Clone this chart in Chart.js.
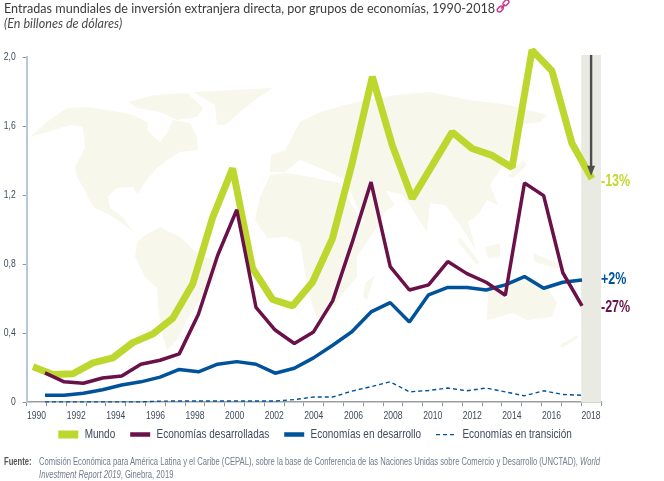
<!DOCTYPE html>
<html lang="es">
<head>
<meta charset="utf-8">
<title>Entradas mundiales de inversión extranjera directa</title>
<script src="https://cdn.jsdelivr.net/npm/chart.js@4/dist/chart.umd.min.js"></script>
<style>
html,body{margin:0;padding:0;background:#fff;}
#wrap{position:relative;width:664px;height:481px;overflow:hidden;}
canvas{position:absolute;left:0;top:0;}
.t{position:absolute;white-space:nowrap;}
#title{left:4px;top:1px;font:400 12.6px Lato,sans-serif;color:#3c3c3c;}
#sub{left:4px;top:16px;font:italic 400 12.6px Lato,sans-serif;color:#4a4a4a;}
#link{position:absolute;left:496px;top:0px;}
.pct{font:700 16px "Liberation Sans",sans-serif;transform:scaleX(.78);transform-origin:0 0;}
.src{font:400 10px "Liberation Sans",sans-serif;color:#717c8c;transform:scaleX(.765);transform-origin:0 0;}
</style>
</head>
<body>
<div id="wrap">
<canvas id="c" width="664" height="481"></canvas>
<div class="t" id="title">Entradas mundiales de inversión extranjera directa, por grupos de economías, 1990-2018</div>
<div class="t" id="sub">(En billones de dólares)</div>
<svg id="link" width="14" height="14" viewBox="0 0 14 14" fill="none" stroke="#c8308c" stroke-width="1.4"><rect x="6.6" y="0.8" width="6.6" height="4" rx="1.9" transform="rotate(-45 9.9 2.8)"/><rect x="1" y="7" width="6.6" height="4" rx="1.9" transform="rotate(-45 4.3 9)"/><path d="M5 8.5 L9 4.5"/></svg>
<div class="t pct" style="left:601px;top:172px;color:#c4d92e">-13%</div>
<div class="t pct" style="left:601px;top:270px;color:#00529b">+2%</div>
<div class="t pct" style="left:601px;top:298px;color:#6a1149">-27%</div>
<div class="t src" style="left:4px;top:456px;color:#555"><b>Fuente:</b></div>
<div class="t src" style="left:39px;top:456px">Comisión Económica para América Latina y el Caribe (CEPAL), sobre la base de Conferencia de las Naciones Unidas sobre Comercio y Desarrollo (UNCTAD), <i>World</i></div>
<div class="t src" style="left:39px;top:469px"><i>Investment Report 2019</i>, Ginebra, 2019</div>
</div>
<script>
const years = [1990,1991,1992,1993,1994,1995,1996,1997,1998,1999,2000,2001,2002,2003,2004,2005,2006,2007,2008,2009,2010,2011,2012,2013,2014,2015,2016,2017,2018];
const mundo = [0.205,0.16,0.165,0.228,0.257,0.345,0.395,0.487,0.685,1.07,1.355,0.775,0.595,0.558,0.695,0.947,1.39,1.885,1.488,1.18,1.372,1.565,1.47,1.43,1.36,2.04,1.92,1.50,1.295];
const desarrolladas = [0.17,0.118,0.11,0.14,0.152,0.22,0.243,0.28,0.51,0.85,1.115,0.55,0.418,0.34,0.407,0.587,0.92,1.275,0.785,0.65,0.68,0.815,0.745,0.695,0.62,1.27,1.197,0.75,0.558];
const enDesarrollo = [0.04,0.04,0.052,0.072,0.1,0.118,0.145,0.19,0.176,0.22,0.235,0.22,0.168,0.197,0.257,0.33,0.408,0.523,0.577,0.465,0.622,0.665,0.665,0.65,0.68,0.728,0.66,0.695,0.708];
const enTransicion = [0.002,0.002,0.002,0.002,0.002,0.002,0.006,0.007,0.007,0.007,0.007,0.007,0.007,0.015,0.03,0.03,0.064,0.09,0.118,0.06,0.068,0.082,0.066,0.082,0.06,0.037,0.066,0.045,0.04];
const yTicks = [0,0.4,0.8,1.2,1.6,2.0];

const pair = arr => arr.map((v,i)=>({x:years[i],y:v}));

/* pale decorative world map behind the chart */
const land = [
 [[30,137],[47,122],[67,108],[87,107],[107,110],[120,112],[133,115],[143,120],[148,123],[147,130],[160,142],[167,133],[173,120],[190,123],[197,137],[198,150],[180,152],[167,160],[157,168],[147,180],[140,190],[138,195],[133,187],[117,188],[108,197],[110,208],[123,217],[130,228],[138,235],[127,227],[110,215],[93,207],[83,187],[77,177],[75,167],[85,148],[83,127],[70,125],[47,132]],
 [[128,102],[153,95],[187,93],[203,108],[197,117],[177,120],[160,112],[137,108]],
 [[193,92],[273,88],[255,100],[240,112],[225,125],[217,125],[215,105]],
 [[142,237],[160,227],[180,237],[197,253],[220,263],[213,283],[200,300],[187,320],[177,340],[167,350],[163,337],[158,307],[157,288],[145,277],[135,257],[137,243]],
 [[270,175],[287,173],[310,177],[340,183],[353,207],[363,223],[390,203],[377,227],[357,257],[357,277],[343,293],[330,313],[317,320],[307,287],[302,253],[300,243],[287,237],[267,238],[255,220],[260,197]],
 [[375,275],[367,300],[363,297],[365,283]],
 [[271,155],[285,150],[293,135],[300,122],[320,112],[345,105],[365,100],[395,95],[430,92],[470,100],[510,105],[547,115],[540,122],[520,125],[515,145],[503,165],[490,185],[498,205],[487,200],[478,215],[468,222],[476,250],[460,225],[445,205],[430,203],[427,232],[403,195],[392,192],[385,190],[395,205],[365,225],[352,195],[345,180],[325,170],[300,160],[285,172],[270,172]],
 [[523,160],[527,165],[513,178],[508,176]],
 [[460,237],[480,263],[476,264],[458,242]],
 [[485,247],[500,243],[500,257],[488,258]],
 [[533,253],[567,267],[555,268],[535,262]],
 [[488,288],[510,283],[533,277],[547,287],[557,303],[552,317],[527,320],[513,313],[487,320]],
 [[560,345],[577,335],[578,338],[562,348]]
];

const decor = {
  id:'decor',
  afterLayout(chart){
    const l = chart.legend;
    l.left += 14.5; l.right += 14.5;
    l.top -= 13; l.bottom -= 13;
  },
  beforeDatasetsDraw(chart){
    const {ctx,chartArea:a,scales:{x}} = chart;
    ctx.save();
    ctx.fillStyle='#f7f7ec';
    land.forEach(p=>{ctx.beginPath();p.forEach((q,i)=>i?ctx.lineTo(q[0],q[1]):ctx.moveTo(q[0],q[1]));ctx.closePath();ctx.fill();});
    const bx = x.getPixelForValue(years.length-1)-x.width/years.length/2;
    ctx.fillStyle='#e9ebe2';
    ctx.fillRect(bx,a.top-2,a.right-bx,a.bottom-a.top+2);
    ctx.restore();
  },
  afterDatasetsDraw(chart){
    const {ctx,chartArea:a,scales:{x,y}} = chart;
    const ax = x.getPixelForValue(years.length-1);
    const end = y.getPixelForValue(mundo[mundo.length-1])-3;
    ctx.save();
    ctx.strokeStyle=ctx.fillStyle='#4d4d4f';
    ctx.lineWidth=2.4;
    ctx.beginPath();ctx.moveTo(ax,a.top-2);ctx.lineTo(ax,end-8);ctx.stroke();
    ctx.beginPath();ctx.moveTo(ax-4,end-10);ctx.lineTo(ax+4,end-10);ctx.lineTo(ax,end);ctx.closePath();ctx.fill();
    ctx.restore();
  }
};

/* the reference uses a condensed typeface: narrow the canvas text horizontally */
const canvas = document.getElementById('c');
const cx = canvas.getContext('2d');
const NARROW = 0.78;
const rawFill = cx.fillText.bind(cx), rawMeasure = cx.measureText.bind(cx);
cx.fillText = function(t,x,y){ cx.save(); cx.translate(x,y); cx.scale(NARROW,1); rawFill(t,0,0); cx.restore(); };
cx.measureText = function(t){ const m = rawMeasure(t); return {width:m.width*NARROW,actualBoundingBoxAscent:m.actualBoundingBoxAscent,actualBoundingBoxDescent:m.actualBoundingBoxDescent}; };

const lineBase = {pointRadius:0,pointHoverRadius:0,tension:0,borderJoinStyle:'bevel',borderCapStyle:'butt',clip:false,fill:false};
const tickFont = {family:'"Liberation Sans",sans-serif',size:11};

new Chart(canvas,{
  type:'line',
  data:{
    labels:years.map(String),
    datasets:[
      {...lineBase,label:'Mundo',data:pair(mundo),xAxisID:'xMundo',borderColor:'#bdd72e',backgroundColor:'#bdd72e',borderWidth:7,order:4},
      {...lineBase,label:'Economías desarrolladas',data:pair(desarrolladas),xAxisID:'xOtros',borderColor:'#6a1149',backgroundColor:'#6a1149',borderWidth:3.5,order:1},
      {...lineBase,label:'Economías en desarrollo',data:pair(enDesarrollo),xAxisID:'xOtros',borderColor:'#00529b',backgroundColor:'#00529b',borderWidth:3.5,order:2},
      {...lineBase,label:'Economías en transición',data:pair(enTransicion),xAxisID:'xOtros',borderColor:'#00529b',backgroundColor:'#00529b',borderWidth:1.4,borderDash:[4,3],order:3}
    ]
  },
  options:{
    responsive:false,animation:false,devicePixelRatio:1,
    layout:{padding:{left:0,right:63,top:57,bottom:17}},
    plugins:{
      tooltip:{enabled:false},
      title:{display:false},
      legend:{display:true,position:'bottom',
        labels:{usePointStyle:true,pointStyle:'line',pointStyleWidth:20,boxHeight:8,padding:15,color:'#3f4a5a',
          font:{family:'"Liberation Sans",sans-serif',size:12.8},
          sort:(a,b)=>a.datasetIndex-b.datasetIndex,
          generateLabels(chart){
            const items = Chart.defaults.plugins.legend.labels.generateLabels(chart);
            items.forEach(it=>{
              const ds = chart.data.datasets[it.datasetIndex];
              it.lineDash = ds.borderDash || [];
              it.lineWidth = ds.borderDash ? ds.borderWidth : ds.borderWidth + 1;
            });
            return items;
          }}}
    },
    scales:{
      x:{type:'category',offset:true,
        grid:{display:true,offset:true,drawOnChartArea:false,tickLength:4,color:'#8f9296'},
        border:{color:'#9a9da0',width:1.5},
        ticks:{autoSkip:false,maxRotation:0,minRotation:0,padding:3,color:'#3f4a5a',font:tickFont,
          callback(v,i){return i%2===0?this.getLabelForValue(v):'';}},
        afterFit(s){s.height=24;}
      },
      xMundo:{type:'linear',display:false,min:1989.684,max:2018.456},
      xOtros:{type:'linear',display:false,min:1989.046,max:2018.99},
      y:{min:0,max:2,
        afterBuildTicks(s){s.ticks=yTicks.map(v=>({value:v}));},
        afterFit(s){s.width=26.7;},
        grid:{display:true,drawOnChartArea:false,tickLength:4,color:'#8f9296'},
        border:{color:'#b8c6d8',width:2},
        ticks:{padding:7,color:'#3f4a5a',font:tickFont,
          callback(v){return v===0?'0':v.toFixed(1).replace('.',',');}}
      }
    }
  },
  plugins:[decor]
});
</script>
</body>
</html>
